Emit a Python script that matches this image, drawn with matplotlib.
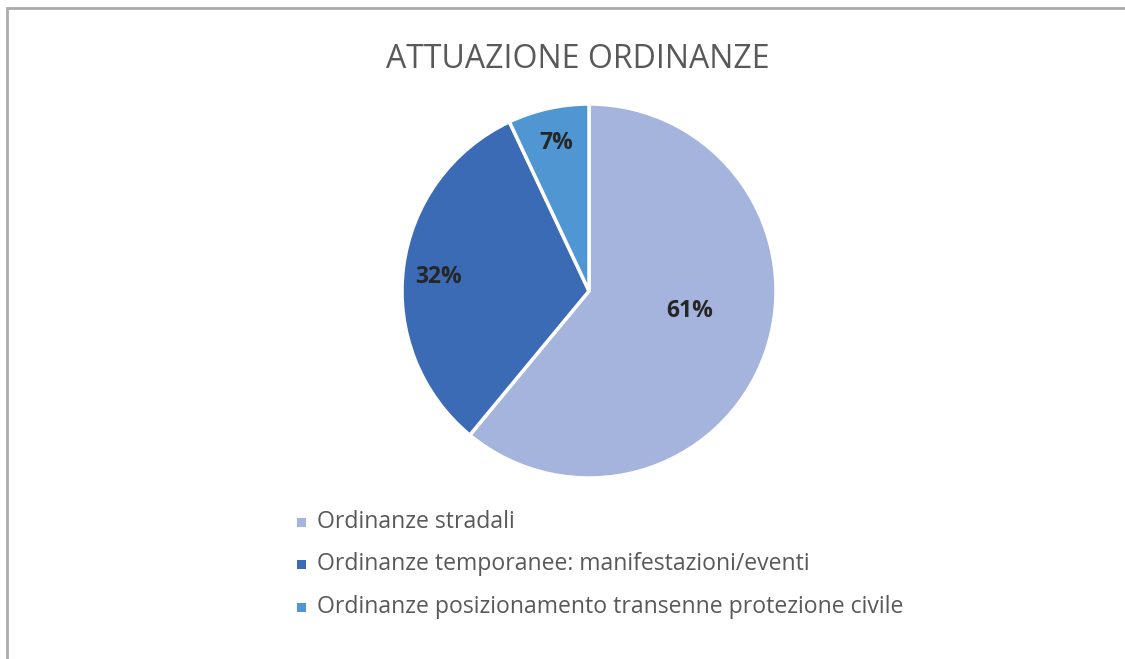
import numpy as np
import matplotlib.pyplot as plt
from matplotlib.patches import Rectangle

labels = ['Ordinanze stradali',
          'Ordinanze temporanee: manifestazioni/eventi',
          'Ordinanze posizionamento transenne protezione civile']
values = [61, 32, 7]
colors = ['#A5B4DC', '#3C6BB5', '#4F96D3']
title = 'ATTUAZIONE ORDINANZE'

plt.rcParams['font.family'] = ['Open Sans', 'DejaVu Sans']

fig = plt.figure(figsize=(11.25, 6.59), dpi=100)
W, H = 1125, 659

# outer chart border
fig.patches.append(Rectangle((7 / W, -0.01), 1.02, 1 - 7.5 / H - (-0.01),
                             transform=fig.transFigure, fill=False,
                             edgecolor='#ABABAB', lw=2))

cx, cy, r = 589, 291, 187
ax = fig.add_axes([(cx - r) / W, (H - cy - r) / H, 2 * r / W, 2 * r / H])
wedges, texts, autotexts = ax.pie(values, colors=colors, startangle=90, counterclock=False,
                                  autopct='%1.0f%%', radius=1,
                                  wedgeprops=dict(edgecolor='white', linewidth=2.5))
ax.set_xlim(-1, 1)
ax.set_ylim(-1, 1)
ax.set_aspect('equal')

# label placement like the original (distance, angle shift)
place = [(0.55, 8.5), (0.81, 2), (0.81, 0)]
for w, t, (d, shift) in zip(wedges, autotexts, place):
    ang = np.deg2rad((w.theta1 + w.theta2) / 2 + shift)
    t.set_position((d * np.cos(ang), d * np.sin(ang)))
    t.set_fontsize(16.5)
    t.set_fontweight('bold')
    t.set_color('#262626')

fig.text(578 / W, 1 - 60 / H, title, ha='center', va='center', fontsize=23, color='#595959')

for i, (lab, col) in enumerate(zip(labels, colors)):
    y = 1 - (522 + i * 42.5) / H
    fig.patches.append(Rectangle((297 / W, y - 4.5 / H), 9 / W, 9 / H,
                                 transform=fig.transFigure, facecolor=col, edgecolor='none'))
    fig.text(317 / W, y, lab, ha='left', va='center', fontsize=16.6, color='#595959')

fig.savefig('out.png', dpi=100)
